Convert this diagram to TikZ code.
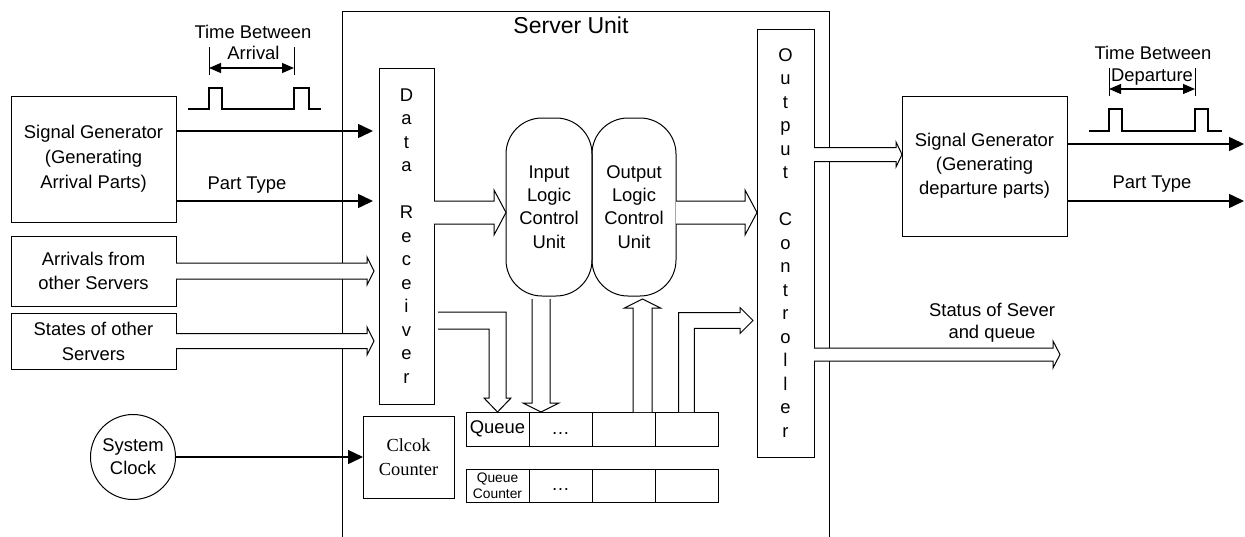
\documentclass[tikz,border=0pt]{standalone}
\usepackage{fontspec}
\setmainfont{Liberation Sans}
\newfontfamily\seriffont{Liberation Serif}
\usetikzlibrary{arrows.meta,positioning,calc}
\newlength{\pxu}
\setlength{\pxu}{0.5pt}
% hollow block arrows: start, tip, shaft half width, head half width, head length
\newcommand{\fatR}[5]{\filldraw[hollow] let \p1=(#1),\p2=(#2) in
 (\x1,\y2+#3) -- (\x2-#5,\y2+#3) -- (\x2-#5,\y2+#4) -- (\x2,\y2)
 -- (\x2-#5,\y2-#4) -- (\x2-#5,\y2-#3) -- (\x1,\y2-#3);}
\newcommand{\fatD}[5]{\filldraw[hollow] let \p1=(#1),\p2=(#2) in
 (\x2-#3,\y1) -- (\x2-#3,\y2+#5) -- (\x2-#4,\y2+#5) -- (\x2,\y2)
 -- (\x2+#4,\y2+#5) -- (\x2+#3,\y2+#5) -- (\x2+#3,\y1);}
\newcommand{\fatU}[5]{\filldraw[hollow] let \p1=(#1),\p2=(#2) in
 (\x2-#3,\y1) -- (\x2-#3,\y2-#5) -- (\x2-#4,\y2-#5) -- (\x2,\y2)
 -- (\x2+#4,\y2-#5) -- (\x2+#3,\y2-#5) -- (\x2+#3,\y1);}
\newcommand{\fatRD}[5]{\filldraw[hollow] let \p1=(#1),\p2=(#2) in
 (\x1,\y1+#3) -- (\x2+#3,\y1+#3) -- (\x2+#3,\y2+#5) -- (\x2+#4,\y2+#5) -- (\x2,\y2)
 -- (\x2-#4,\y2+#5) -- (\x2-#3,\y2+#5) -- (\x2-#3,\y1-#3) -- (\x1,\y1-#3);}
\newcommand{\fatUR}[5]{\filldraw[hollow] let \p1=(#1),\p2=(#2) in
 (\x1-#3,\y1) -- (\x1-#3,\y2+#3) -- (\x2-#5,\y2+#3) -- (\x2-#5,\y2+#4) -- (\x2,\y2)
 -- (\x2-#5,\y2-#4) -- (\x2-#5,\y2-#3) -- (\x1+#3,\y2-#3) -- (\x1+#3,\y1);}

\begin{document}
\begin{tikzpicture}[x=0.5pt,y=-0.5pt,
 box/.style={draw,line width=0.5pt,align=center,inner sep=0pt,outer sep=0pt,font=\fontsize{9.2}{12.5}\selectfont},
 cell/.style={draw,line width=0.5pt,align=center,inner sep=0pt,outer sep=0pt,minimum width=63\pxu,minimum height=34\pxu,font=\fontsize{9.2}{12.5}\selectfont},
 txt/.style={align=center,inner sep=0pt,font=\fontsize{9.2}{11}\selectfont},
 sig/.style={-{Triangle[length=7.5pt,width=7pt]},line width=0.75pt},
 dim/.style={{Triangle[length=6pt,width=5pt]}-{Triangle[length=6pt,width=5pt]},line width=0.6pt},
 hollow/.style={draw,fill=white,line width=0.5pt,line join=miter}]
\useasboundingbox (0,0) rectangle (1245,536);

% server unit frame
\node[draw,line width=0.5pt,minimum width=487\pxu,minimum height=540\pxu,inner sep=0pt,outer sep=0pt] (su) at (585.5,281) {};
\node[txt,font=\fontsize{11.5}{13}\selectfont] (sutitle) at (571,25) {Server Unit};

% sources on the left
\node[box,minimum width=165\pxu,minimum height=126\pxu] (sga) at (93.5,159) {Signal Generator\\(Generating\\Arrival Parts)};
\node[box,minimum width=165\pxu,minimum height=70\pxu,font=\fontsize{9.2}{12}\selectfont] (afo) at (93.5,271) {Arrivals from\\other Servers};
\node[box,minimum width=165\pxu,minimum height=56\pxu] (sos) at (93.5,341) {States of other\\Servers};
\node[box,circle,minimum size=85\pxu,font=\fontsize{9.2}{11.5}\selectfont] (clk) at (133,457) {System\\Clock};

% units inside the server
\node[box,minimum width=55\pxu,minimum height=336\pxu,font=\fontsize{9.2}{11.75}\selectfont] (dr) at (406.5,236) {D\\a\\t\\a\\[11.75pt]R\\e\\c\\e\\i\\v\\e\\r};
\node[box,rounded corners=18pt,minimum width=86\pxu,minimum height=178\pxu,font=\fontsize{9.2}{11.65}\selectfont] (ilcu) at (549,207) {Input\\Logic\\Control\\Unit};
\node[box,rounded corners=18pt,minimum width=84\pxu,minimum height=178\pxu,font=\fontsize{9.2}{11.65}\selectfont] (olcu) at (634,207) {Output\\Logic\\Control\\Unit};
\node[box,minimum width=57\pxu,minimum height=428\pxu,font=\fontsize{9.2}{11.75}\selectfont] (oc) at (785.5,243) {O\\u\\t\\p\\u\\t\\[11.75pt]C\\o\\n\\t\\r\\o\\l\\l\\e\\r};
\node[box,minimum width=91\pxu,minimum height=82\pxu,font=\seriffont\fontsize{9.2}{12}\selectfont] (cc) at (408.5,457) {Clcok\\Counter};

% queue and queue counter
\node[cell] (q1) at (497.5,429) {Queue};
\node[cell,right=0pt of q1] (q2) {\strut\dots};
\node[cell,right=0pt of q2] (q3) {};
\node[cell,right=0pt of q3] (q4) {};
\node[cell,minimum height=33\pxu,below=11.5pt of q1,font=\fontsize{6.9}{8}\selectfont] (qc1) {Queue\\Counter};
\node[cell,minimum height=33\pxu,right=0pt of qc1] (qc2) {\strut\dots};
\node[cell,minimum height=33\pxu,right=0pt of qc2] (qc3) {};
\node[cell,minimum height=33\pxu,right=0pt of qc3] (qc4) {};

% departure side
\node[box,minimum width=165\pxu,minimum height=140\pxu,font=\fontsize{9.2}{12}\selectfont] (sgd) at (984.5,166) {Signal Generator\\(Generating\\departure parts)};

% arrival pulses
\draw[line width=0.6pt] (188,109) -- ++(21,0) -- ++(0,-21) -- ++(13,0) -- ++(0,21) -- ++(72,0) -- ++(0,-21) -- ++(15,0) -- ++(0,21) -- ++(12,0);
\draw[line width=0.5pt] (209,47) -- (209,75) (294,47) -- (294,75);
\draw[dim] (209,68) -- (294,68);
\node[txt] (tba) at (253,32) {Time Between};
\node[txt] (arrl) at (253.5,53) {Arrival};

% departure pulses
\draw[line width=0.6pt] (1089,131) -- ++(20,0) -- ++(0,-22) -- ++(13,0) -- ++(0,22) -- ++(73,0) -- ++(0,-22) -- ++(13,0) -- ++(0,22) -- ++(14,0);
\draw[line width=0.5pt] (1109,68) -- (1109,96) (1195,68) -- (1195,96);
\draw[dim] (1109,89) -- (1195,89);
\node[txt] (tbd) at (1153,53) {Time Between};
\node[txt] (depl) at (1152,77) {Departure};

% solid signal lines
\coordinate (pa) at (176,131);
\coordinate (pt) at (176,201);
\draw[sig,shorten >=3pt] (pa) -- (dr.west |- pa);
\draw[sig,shorten >=3pt] (pt) -- (dr.west |- pt);
\node[txt] (ptl) at (247,185) {Part Type};
\draw[sig] (clk) -- (cc);
\coordinate (pdend) at (1244,144);
\coordinate (ptend) at (1244,201);
\draw[sig] (sgd.east |- pdend) -- (pdend);
\draw[sig] (sgd.east |- ptend) -- (ptend);
\node[txt] (ptr) at (1152,184) {Part Type};

% hollow data arrows
\fatR{afo.east}{$(dr.west |- afo.east)+(-5,0)$}{4pt}{7pt}{3.5pt}
\fatR{sos.east}{$(dr.west |- sos.east)+(-5,0)$}{3.75pt}{7pt}{3.5pt}
\coordinate (drout) at (434,212.5);
\fatR{drout}{ilcu.west |- drout}{5.75pt}{11.25pt}{6pt}
\fatR{olcu.east |- drout}{oc.west |- drout}{5.75pt}{11.25pt}{6pt}
\coordinate (ocout) at (814,154.5);
\fatR{ocout}{sgd.west |- ocout}{3.5pt}{6.25pt}{3pt}
\coordinate (stat) at (1060,354.5);
\fatR{oc.east |- stat}{stat}{3.25pt}{6.75pt}{3.5pt}
\node[txt] (statl) at (992,323) {Status of Sever\\and queue};
\coordinate (drq) at (438,320.5);
\fatRD{drq}{q1.north}{4.25pt}{6.75pt}{7pt}
\coordinate (ildn) at (541,299);
\fatD{ildn}{ildn |- q1.north}{4.5pt}{9pt}{4.5pt}
\coordinate (olup) at (642.5,299);
\fatU{olup |- q3.north}{olup}{4.75pt}{9pt}{4.5pt}
\coordinate (ocin) at (753,320.5);
\fatUR{q4.north}{ocin}{3.9pt}{6.5pt}{6.5pt}
\end{tikzpicture}
\end{document}
